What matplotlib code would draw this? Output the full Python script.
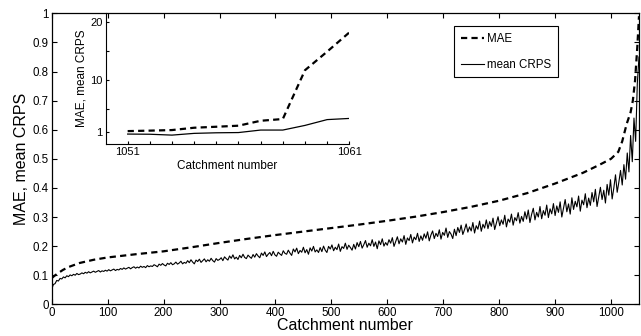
import matplotlib
matplotlib.use("Agg")
import matplotlib.pyplot as plt
from matplotlib.ticker import FuncFormatter

plt.rcParams['font.family'] = ['Liberation Sans', 'DejaVu Sans']

# ---------------- data ----------------
# MAE (smooth, sorted) sampled at catchment numbers
mae_x = [0, 5, 10, 20, 30, 50, 75, 100, 150, 200, 250, 300, 350, 400, 450, 500,
         550, 600, 650, 700, 750, 800, 850, 900, 950, 980, 1000, 1013, 1020,
         1028, 1035, 1039, 1043, 1047, 1050]
mae_y = [0.090, 0.098, 0.105, 0.118, 0.128, 0.142, 0.153, 0.161, 0.172, 0.182,
         0.196, 0.211, 0.225, 0.238, 0.250, 0.262, 0.274, 0.287, 0.301, 0.317,
         0.335, 0.356, 0.382, 0.415, 0.452, 0.480, 0.500, 0.524, 0.560, 0.620,
         0.660, 0.700, 0.770, 0.885, 0.990]

# mean CRPS, read every 3 catchments (0..1047) plus the last one (1050)
crps_x = list(range(0, 1048, 3)) + [1050]
crps_y = [
    # 0-57
    0.052, 0.068, 0.071, 0.082, 0.080, 0.089, 0.087, 0.094, 0.091, 0.098,
    0.095, 0.101, 0.098, 0.103, 0.100, 0.106, 0.102, 0.104, 0.108, 0.105,
    # 60-117
    0.110, 0.107, 0.112, 0.108, 0.111, 0.114, 0.110, 0.113, 0.116, 0.111,
    0.115, 0.113, 0.117, 0.114, 0.119, 0.115, 0.118, 0.121, 0.116, 0.120,
    # 120-177
    0.118, 0.123, 0.120, 0.125, 0.121, 0.124, 0.127, 0.122, 0.126, 0.129,
    0.124, 0.128, 0.125, 0.131, 0.127, 0.130, 0.126, 0.133, 0.129, 0.132,
    # 180-237
    0.130, 0.136, 0.133, 0.129, 0.138, 0.134, 0.140, 0.135, 0.132, 0.141,
    0.137, 0.143, 0.136, 0.139, 0.145, 0.138, 0.142, 0.148, 0.139, 0.144,
    # 240-297
    0.141, 0.150, 0.143, 0.153, 0.145, 0.139, 0.152, 0.147, 0.155, 0.144,
    0.150, 0.156, 0.146, 0.153, 0.148, 0.158, 0.150, 0.145, 0.157, 0.151,
    # 300-357
    0.154, 0.160, 0.150, 0.163, 0.157, 0.152, 0.166, 0.158, 0.170, 0.156,
    0.162, 0.154, 0.168, 0.160, 0.172, 0.161, 0.157, 0.169, 0.163, 0.158,
    # 360-417
    0.171, 0.162, 0.174, 0.166, 0.160, 0.176, 0.168, 0.180, 0.164, 0.172,
    0.178, 0.167, 0.182, 0.170, 0.165, 0.179, 0.173, 0.168, 0.184, 0.175,
    # 420-477
    0.172, 0.186, 0.176, 0.168, 0.190, 0.180, 0.193, 0.174, 0.185, 0.179,
    0.196, 0.177, 0.188, 0.172, 0.194, 0.183, 0.199, 0.180, 0.187, 0.178,
    # 480-537
    0.195, 0.181, 0.200, 0.186, 0.178, 0.199, 0.190, 0.204, 0.184, 0.196,
    0.188, 0.207, 0.182, 0.198, 0.192, 0.210, 0.189, 0.203, 0.195, 0.186,
    # 540-597
    0.206, 0.190, 0.212, 0.198, 0.216, 0.193, 0.205, 0.219, 0.196, 0.210,
    0.201, 0.222, 0.199, 0.214, 0.191, 0.218, 0.205, 0.225, 0.200, 0.212,
    # 600-657
    0.203, 0.222, 0.210, 0.229, 0.199, 0.216, 0.232, 0.208, 0.225, 0.214,
    0.236, 0.206, 0.228, 0.219, 0.240, 0.211, 0.231, 0.222, 0.244, 0.216,
    # 660-717
    0.235, 0.220, 0.242, 0.227, 0.249, 0.218, 0.238, 0.252, 0.226, 0.244,
    0.233, 0.256, 0.224, 0.247, 0.237, 0.262, 0.230, 0.250, 0.241, 0.226,
    # 720-777
    0.258, 0.236, 0.264, 0.247, 0.272, 0.240, 0.256, 0.276, 0.248, 0.266,
    0.252, 0.281, 0.245, 0.270, 0.258, 0.286, 0.251, 0.275, 0.262, 0.290,
    # 780-837
    0.260, 0.284, 0.268, 0.296, 0.257, 0.279, 0.301, 0.270, 0.290, 0.275,
    0.306, 0.266, 0.293, 0.282, 0.310, 0.272, 0.298, 0.287, 0.315, 0.279,
    # 840-897
    0.302, 0.285, 0.318, 0.293, 0.324, 0.281, 0.309, 0.330, 0.290, 0.316,
    0.300, 0.336, 0.294, 0.322, 0.306, 0.341, 0.298, 0.328, 0.311, 0.346,
    # 900-957
    0.305, 0.338, 0.316, 0.352, 0.300, 0.330, 0.360, 0.318, 0.345, 0.310,
    0.366, 0.326, 0.354, 0.335, 0.372, 0.320, 0.358, 0.342, 0.380, 0.332,
    # 960-1017
    0.365, 0.340, 0.384, 0.352, 0.395, 0.336, 0.370, 0.402, 0.360, 0.392,
    0.348, 0.412, 0.375, 0.428, 0.362, 0.400, 0.445, 0.385, 0.420, 0.460,
    # 1020-1047
    0.410, 0.480, 0.430, 0.520, 0.455, 0.580, 0.490, 0.640, 0.560, 0.760,
    # 1050
    0.850,
]

# inset: last catchments
ins_x = [1051, 1052, 1053, 1054, 1055, 1056, 1057, 1058, 1059, 1060, 1061]
ins_mae = [1.22, 1.30, 1.40, 1.80, 1.97, 2.15, 3.00, 3.30, 11.7, 14.9, 18.2]
ins_crps = [0.71, 0.68, 0.53, 0.83, 0.93, 0.97, 1.40, 1.40, 2.20, 3.20, 3.40]

main_yticks = [0, 0.1, 0.2, 0.3, 0.4, 0.5, 0.6, 0.7, 0.8, 0.9, 1]
main_ylabels = ['0', '0.1', '0.2', '0.3', '0.4', '0.5', '0.6', '0.7', '0.8', '0.9', '1']
main_xticks = [0, 100, 200, 300, 400, 500, 600, 700, 800, 900, 1000]
ins_yticks = [1, 5, 10, 15, 20]
ins_ylabels = ['1', '', '10', '', '20']
ins_xlabels = {1051: '1051', 1061: '1061'}

# ---------------- figure ----------------
fig = plt.figure(figsize=(6.41, 3.36), dpi=100)
W, H = 641, 336
ax = fig.add_axes([51.7 / W, 1 - 304.3 / H, (639 - 51.7) / W, (304.3 - 13.3) / H])

dash_kw = dict(color='black', lw=1.6, dashes=(2.8, 1.9))
ax.plot(mae_x, mae_y, label='MAE', **dash_kw)
ax.plot(crps_x, crps_y, color='black', lw=0.8, label='mean CRPS')

ax.set_xlim(0, 1050)
ax.set_ylim(0, 1)
ax.set_xticks(main_xticks)
ax.set_yticks(main_yticks)
ax.set_yticklabels(main_ylabels)
ax.tick_params(direction='in', top=True, right=True, length=3.5, width=0.8,
               labelsize=8.3, pad=2)
for s in ax.spines.values():
    s.set_linewidth(0.9)
ax.set_xlabel('Catchment number', fontsize=11.5, labelpad=-1)
ax.set_ylabel('MAE, mean CRPS', fontsize=11.5, labelpad=3)

leg = ax.legend(loc='upper left', bbox_to_anchor=(0.685, 0.955), borderaxespad=0,
                fontsize=8.3, frameon=True, fancybox=False, edgecolor='black',
                handlelength=2.0, handletextpad=0.3, labelspacing=1.15,
                borderpad=0.6)
leg.get_frame().set_linewidth(0.8)
leg.get_frame().set_alpha(1)

# ---------------- inset ----------------
axi = fig.add_axes([105.5 / W, 1 - 144 / H, (349.3 - 105.5) / W, (144 - 13.3) / H])
axi.patch.set_alpha(0)
axi.plot(ins_x, ins_mae, **dash_kw)
axi.plot(ins_x, ins_crps, color='black', lw=0.9)
axi.set_xlim(1050, 1061)
axi.set_ylim(-1, 21.5)
axi.set_xticks(ins_x)
axi.xaxis.set_major_formatter(FuncFormatter(lambda v, p: ins_xlabels.get(int(round(v)), '')))
axi.set_yticks(ins_yticks)
axi.set_yticklabels(ins_ylabels)
axi.spines['top'].set_visible(False)
axi.spines['right'].set_visible(False)
axi.tick_params(direction='in', length=2.5, width=0.8, labelsize=8, pad=2)
axi.set_xlabel('Catchment number', fontsize=8.5, labelpad=2)
axi.set_ylabel('MAE, mean CRPS', fontsize=8.5, labelpad=2)

fig.savefig('out.png', dpi=100)
